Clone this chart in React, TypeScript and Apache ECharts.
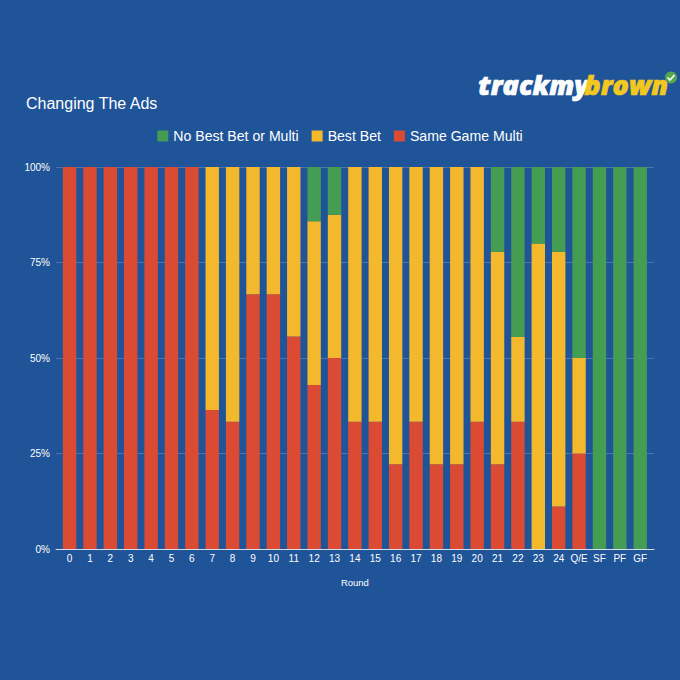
import React, { useEffect, useRef } from "react";
import * as echarts from "echarts";

const rounds = ["0","1","2","3","4","5","6","7","8","9","10","11","12","13","14","15","16","17","18","19","20","21","22","23","24","Q/E","SF","PF","GF"];
const sameGameMulti = [100,100,100,100,100,100,100,36.4,33.3,66.7,66.7,55.6,42.9,50,33.3,33.3,22.2,33.3,22.2,22.2,33.3,22.2,33.3,0,11.1,25,0,0,0];
const bestBet = [0,0,0,0,0,0,0,63.6,66.7,33.3,33.3,44.4,42.9,37.5,66.7,66.7,77.8,66.7,77.8,77.8,66.7,55.6,22.2,80,66.7,25,0,0,0];
const noBestBet = [0,0,0,0,0,0,0,0,0,0,0,0,14.2,12.5,0,0,0,0,0,0,0,22.2,44.5,20,22.2,50,100,100,100];

const BG = "#1f5499";
const FONT = "'Liberation Sans', Arial, sans-serif";

export default function App() {
  const ref = useRef<HTMLDivElement>(null);
  useEffect(() => {
    const chart = echarts.init(ref.current!, undefined, { renderer: "svg" });
    const bar = (name: string, data: number[], color: string) => ({
      name, type: "bar", stack: "all", data, barWidth: 13.4, xAxisIndex: 1, yAxisIndex: 1, itemStyle: { color },
    });
    chart.setOption({
      animation: false,
      backgroundColor: BG,
      textStyle: { fontFamily: FONT },
      title: {
        text: "Changing The Ads", left: 21, top: 90,
        textStyle: { color: "#fff", fontSize: 16, fontWeight: "normal", fontFamily: FONT },
      },
      legend: {
        data: ["No Best Bet or Multi", "Best Bet", "Same Game Multi"],
        top: 124, left: "center", icon: "rect", itemWidth: 11, itemHeight: 11, itemGap: 13,
        textStyle: { color: "#fff", fontSize: 14.1, fontFamily: FONT },
      },
      grid: [
        { left: 56, right: 26, top: 167, bottom: 131 },
        { left: 59.4, right: 29.6, top: 167, bottom: 131 },
      ],
      xAxis: [
        {
          gridIndex: 0, type: "value", min: 0, max: 1, z: 5,
          axisLabel: { show: false }, axisTick: { show: false }, splitLine: { show: false },
          axisLine: { show: true, onZero: false, lineStyle: { color: "#d5e0ee", width: 1 } },
        },
        {
          gridIndex: 1, type: "category", data: rounds, name: "Round", nameLocation: "middle", nameGap: 28,
          nameTextStyle: { color: "#fff", fontSize: 9.5 },
          axisTick: { show: false },
          axisLine: { show: false },
          axisLabel: { color: "#fff", fontSize: 10, interval: 0, margin: 4 },
        },
      ],
      yAxis: [
        {
          gridIndex: 0, type: "value", min: 0, max: 100, interval: 25,
          axisLabel: { color: "#fff", fontSize: 10, margin: 6, formatter: "{value}%" },
          axisLine: { show: false }, axisTick: { show: false },
          splitLine: { lineStyle: { color: "#4a76ad", width: 1 } },
        },
        {
          gridIndex: 1, type: "value", min: 0, max: 100, interval: 25,
          axisLabel: { show: false }, axisLine: { show: false }, axisTick: { show: false }, splitLine: { show: false },
        },
      ],
      series: [
        bar("Same Game Multi", sameGameMulti, "#db4a33"),
        bar("Best Bet", bestBet, "#f4b82c"),
        bar("No Best Bet or Multi", noBestBet, "#459d54"),
      ],
      graphic: [
        { type: "text", left: 478, top: 71, style: { text: "trackmy", fill: "#fff", stroke: "#fff", lineWidth: 0.7, fontFamily: "'Open Sans', sans-serif", fontStyle: "italic", fontWeight: 800, fontSize: 27 } },
        { type: "text", left: 584, top: 71, style: { text: "brown", fill: "#f2c81f", stroke: "#f2c81f", lineWidth: 0.7, fontFamily: "'Open Sans', sans-serif", fontStyle: "italic", fontWeight: 800, fontSize: 27 } },
        { type: "circle", shape: { cx: 671, cy: 77.5, r: 6 }, style: { fill: "#55a84f" } },
        { type: "polyline", shape: { points: [[667.5, 77.5], [670, 80], [674.5, 75]] }, style: { stroke: "#fff", lineWidth: 1.6, fill: "none" } },
      ],
    });
    return () => chart.dispose();
  }, []);
  return <div ref={ref} style={{ position: "fixed", left: 0, top: 0, width: 680, height: 680 }} />;
}
